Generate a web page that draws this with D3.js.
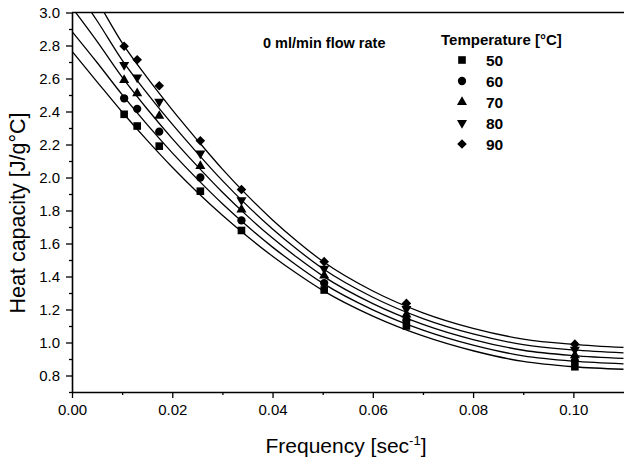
<!DOCTYPE html>
<html>
<head>
<meta charset="utf-8">
<script src="https://cdn.jsdelivr.net/npm/d3@7"></script>
<style>
  html, body { margin: 0; padding: 0; background: #fff; }
  svg { display: block; }
  text { font-family: "Liberation Sans", Arial, sans-serif; fill: #000; }
</style>
</head>
<body>
<svg id="chart" width="624" height="461"></svg>
<script>
// ---------- data ----------
const seriesNames = ["50", "60", "70", "80", "90"];
const freq = [0.0104, 0.0130, 0.0174, 0.0256, 0.0338, 0.0503, 0.0667, 0.1003];
const cp50 = [2.383, 2.312, 2.190, 1.917, 1.679, 1.318, 1.100, 0.853];
const cp60 = [2.480, 2.416, 2.278, 2.000, 1.740, 1.360, 1.135, 0.888];
const cp70 = [2.590, 2.510, 2.373, 2.069, 1.805, 1.405, 1.169, 0.922];
const cp80 = [2.683, 2.606, 2.460, 2.146, 1.862, 1.447, 1.203, 0.956];
const cp90 = [2.795, 2.714, 2.556, 2.223, 1.927, 1.490, 1.237, 0.990];

// fitted curves
const fitX   = [0, 0.005, 0.01, 0.015, 0.02, 0.025, 0.03, 0.035, 0.04, 0.045, 0.05, 0.06, 0.07, 0.08, 0.09, 0.10, 0.11];
const fit50  = [2.765, 2.580, 2.397, 2.225, 2.062, 1.911, 1.771, 1.642, 1.523, 1.415, 1.316, 1.160, 1.040, 0.950, 0.885, 0.853, 0.838];
const fit60  = [2.885, 2.697, 2.502, 2.320, 2.149, 1.990, 1.841, 1.704, 1.578, 1.464, 1.360, 1.198, 1.075, 0.984, 0.919, 0.887, 0.871];
const fit70  = [3.030, 2.825, 2.608, 2.415, 2.236, 2.069, 1.911, 1.766, 1.633, 1.513, 1.404, 1.236, 1.110, 1.018, 0.953, 0.921, 0.904];
const fit80  = [3.170, 2.950, 2.712, 2.510, 2.323, 2.148, 1.981, 1.828, 1.688, 1.562, 1.448, 1.274, 1.145, 1.052, 0.987, 0.955, 0.937];
const fit90  = [3.310, 3.072, 2.816, 2.605, 2.410, 2.227, 2.051, 1.890, 1.743, 1.611, 1.492, 1.312, 1.180, 1.086, 1.021, 0.989, 0.970];

const xMajor = [0, 0.02, 0.04, 0.06, 0.08, 0.10];
const xMinor = [0.01, 0.03, 0.05, 0.07, 0.09];
const yMajor = [0.8, 1.0, 1.2, 1.4, 1.6, 1.8, 2.0, 2.2, 2.4, 2.6, 2.8, 3.0];
const yMinor = [0.7, 0.9, 1.1, 1.3, 1.5, 1.7, 1.9, 2.1, 2.3, 2.5, 2.7, 2.9];

const pointSets = [cp50, cp60, cp70, cp80, cp90];
const fitSets = [fit50, fit60, fit70, fit80, fit90];

// ---------- layout ----------
const svg = d3.select("#chart");
const L = 72, R = 623.5, T = 12.5, B = 392;
const x = d3.scaleLinear().domain([0, 0.11]).range([L, R]);
const y = d3.scaleLinear().domain([0.7, 3.0]).range([B, T]);

// symbols
const symGen = [
  d3.symbol().type(d3.symbolSquare).size(58),
  d3.symbol().type(d3.symbolCircle).size(54),
  d3.symbol().type(d3.symbolTriangle).size(44),
  d3.symbol().type(d3.symbolTriangle).size(44),
  d3.symbol().type(d3.symbolSquare).size(46)
];
const symRot = [0, 0, 0, 180, 45];

// clip
svg.append("clipPath").attr("id", "clip")
  .append("rect").attr("x", L).attr("y", T).attr("width", R - L + 1).attr("height", B - T);

// curves
const line = d3.line().x(d => x(d[0])).y(d => y(d[1])).curve(d3.curveMonotoneX);
const gCurves = svg.append("g").attr("clip-path", "url(#clip)");
fitSets.forEach(fs => {
  gCurves.append("path")
    .attr("d", line(fitX.map((xv, i) => [xv, fs[i]])))
    .attr("fill", "none").attr("stroke", "#000").attr("stroke-width", 1.3);
});

// points
pointSets.forEach((ps, k) => {
  svg.append("g").selectAll("path").data(ps).join("path")
    .attr("d", symGen[k])
    .attr("transform", (d, i) => `translate(${x(freq[i])},${y(d)}) rotate(${symRot[k]})`)
    .attr("fill", "#000");
});

// axes
const axisStyle = g => {
  g.selectAll(".domain").attr("stroke", "#000").attr("stroke-width", 1.6);
  g.selectAll(".tick line").attr("stroke", "#000").attr("stroke-width", 1.3);
};
const gx = svg.append("g").attr("transform", `translate(0,${B})`)
  .call(d3.axisBottom(x).tickValues(xMajor).tickFormat(d3.format(".2f")).tickSize(6).tickSizeOuter(0))
  .call(axisStyle);
gx.selectAll(".tick text").attr("font-size", 15).attr("y", 12).attr("dy", "0.71em");
svg.append("g").attr("transform", `translate(0,${B})`)
  .call(d3.axisBottom(x).tickValues(xMinor).tickFormat("").tickSize(3).tickSizeOuter(0))
  .call(axisStyle).select(".domain").remove();

const gy = svg.append("g").attr("transform", `translate(${L},0)`)
  .call(d3.axisLeft(y).tickValues(yMajor).tickFormat(d3.format(".1f")).tickSize(6).tickSizeOuter(0))
  .call(axisStyle);
gy.selectAll(".tick text").attr("font-size", 15).attr("x", -12);
svg.append("g").attr("transform", `translate(${L},0)`)
  .call(d3.axisLeft(y).tickValues(yMinor).tickFormat("").tickSize(3).tickSizeOuter(0))
  .call(axisStyle).select(".domain").remove();

// top frame line
svg.append("line").attr("x1", L).attr("x2", 624).attr("y1", T).attr("y2", T)
  .attr("stroke", "#000").attr("stroke-width", 1.4);

// axis titles
svg.append("text")
  .attr("transform", `translate(25,213) rotate(-90)`)
  .attr("text-anchor", "middle").attr("font-size", 21.5)
  .text("Heat capacity [J/g°C]");

const xt = svg.append("text").attr("x", 346).attr("y", 453)
  .attr("text-anchor", "middle").attr("font-size", 21);
xt.append("tspan").text("Frequency [sec");
xt.append("tspan").attr("dy", -8).attr("font-size", 13).text("-1");
xt.append("tspan").attr("dy", 8).text("]");

// annotation
svg.append("text").attr("x", 263).attr("y", 48).attr("font-size", 14.5).attr("font-weight", "bold")
  .text("0 ml/min flow rate");

// legend
svg.append("text").attr("x", 441).attr("y", 45).attr("font-size", 15).attr("font-weight", "bold")
  .text("Temperature [°C]");
const legRows = [60, 81, 102, 123, 144];
seriesNames.forEach((nm, k) => {
  svg.append("path").attr("d", symGen[k])
    .attr("transform", `translate(462,${legRows[k]}) rotate(${symRot[k]})`).attr("fill", "#000");
  svg.append("text").attr("x", 486).attr("y", legRows[k] + 5.5).attr("font-size", 15.5).attr("font-weight", "bold")
    .text(nm);
});
</script>
</body>
</html>
